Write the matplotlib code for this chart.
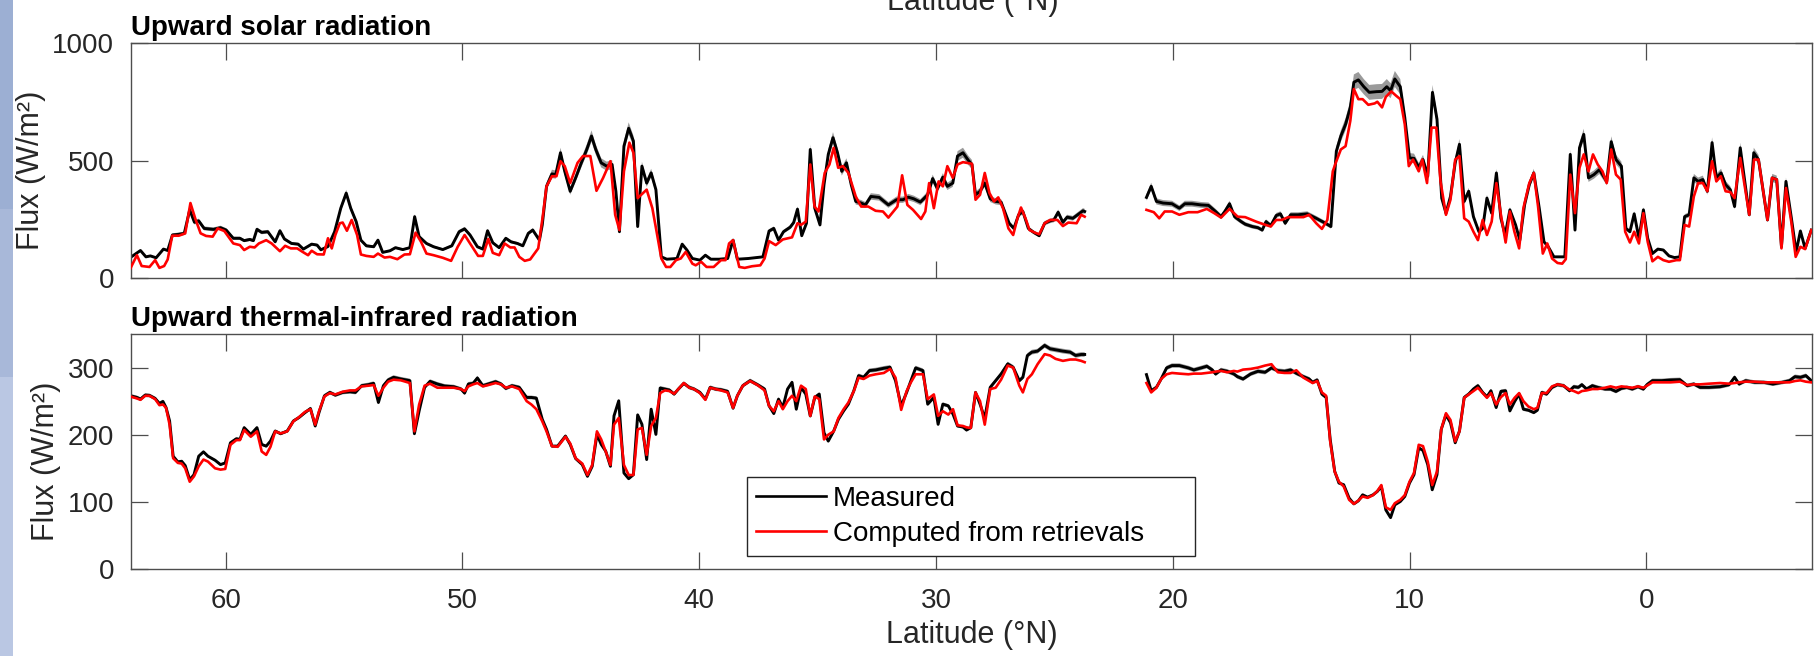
import matplotlib
matplotlib.use("Agg")
import matplotlib.pyplot as plt
from matplotlib.patches import Rectangle
import numpy as np

plt.rcParams['font.family'] = ['Liberation Sans', 'DejaVu Sans']

# ================== upward solar radiation ==================
sw_meas_lat = [64.03, 63.6, 63.37, 63.18, 62.94, 62.63, 62.45, 62.25, 61.98, 61.75, 61.52, 61.32, 61.14,
               60.91, 60.52, 60.22, 59.98, 59.68, 59.4, 59.22, 58.98, 58.83, 58.68, 58.48, 58.22, 57.91,
               57.71, 57.52, 57.22, 56.94, 56.72, 56.37, 56.14, 55.98, 55.68, 55.4, 55.14, 54.91, 54.72,
               54.49, 54.29, 54.06, 53.75, 53.57, 53.37, 53.06, 52.83, 52.52, 52.22, 52.02, 51.83, 51.52,
               51.22, 50.83, 50.45, 50.14, 49.91, 49.68, 49.37, 49.14, 48.94, 48.72, 48.45, 48.17, 47.95,
               47.68, 47.45, 47.22, 47.03, 46.75, 46.63, 46.45, 46.22, 46.06, 45.86, 45.68, 45.45, 45.22,
               44.98, 44.75, 44.55, 44.37, 44.14, 43.91, 43.68, 43.52, 43.37, 43.18, 42.98, 42.78, 42.6,
               42.42, 42.22, 42.03, 41.83, 41.6, 41.37, 40.94, 40.72, 40.52, 40.29,
               39.97, 39.74, 39.51, 39.16, 38.8, 38.57, 38.39, 37.93, 37.31, 37.05, 36.85, 36.65, 36.44,
               36.16, 36.01, 35.85, 35.67, 35.47, 35.31, 35.12, 34.9, 34.73, 34.55, 34.35, 34.16, 33.98,
               33.78, 33.58, 33.39, 33.16, 32.98, 32.75, 32.4, 32.01, 31.67, 31.4, 31.17, 30.94, 30.66,
               30.35, 30.14, 29.94, 29.71, 29.52, 29.29, 29.09, 28.86, 28.63, 28.48, 28.33, 28.14, 27.94,
               27.71, 27.48, 27.25, 27.1, 26.91, 26.71, 26.51, 26.33, 26.1, 25.87, 25.64, 25.41, 25.18,
               25.02, 24.84, 24.64, 24.46, 24.22, 24.02, 23.79, 23.72, 22.4,
               21.11, 20.91, 20.69, 20.41, 20.03, 19.72, 19.49, 19.19, 18.8, 18.49, 18.19, 17.96, 17.8,
               17.6, 17.39, 17.11,
               16.94, 16.64, 16.4, 16.22, 16.06, 15.86, 15.63, 15.45, 15.25, 15.02, 14.71, 14.32, 13.94,
               13.55, 13.32, 13.09, 12.9, 12.7, 12.5, 12.35, 12.16, 11.93, 11.7, 11.39, 11.16, 10.96, 10.8,
               10.62, 10.39, 10.2, 10.0, 9.81, 9.61, 9.43, 9.23, 9.03, 8.84, 8.64, 8.46, 8.27, 8.07, 7.89,
               7.69, 7.5, 7.3, 7.07, 6.91, 6.73, 6.53, 6.33, 6.14, 5.96, 5.76, 5.52, 5.34, 5.14, 4.94, 4.75,
               4.52, 4.32, 4.14, 3.9, 3.67, 3.44, 3.21, 3.01, 2.82, 2.64, 2.44, 2.21, 1.98, 1.67, 1.48,
               1.28, 1.05, 0.86, 0.69, 0.51, 0.31, 0.12, -0.06, -0.26, -0.49, -0.72, -0.96, -1.19, -1.42,
               -1.62, -1.81, -2.01, -2.19, -2.39, -2.58, -2.78, -2.96, -3.16, -3.35, -3.55, -3.73, -3.97,
               -4.15, -4.35, -4.54, -4.74, -4.94, -5.12, -5.32, -5.51, -5.71, -5.9, -6.13, -6.33, -6.51,
               -6.71, -6.97]
sw_meas = [87, 117, 90, 94, 86, 123, 117, 183, 186, 190, 290, 237, 243,
           211, 207, 214, 204, 169, 169, 159, 164, 159, 207, 194, 197, 154,
           201, 166, 147, 144, 123, 144, 140, 120, 134, 197, 297, 361, 297,
           240, 161, 137, 133, 161, 109, 116, 129, 121, 129, 261, 176, 147,
           133, 121, 137, 197, 209, 183, 133, 123, 201, 150, 129, 169, 154,
           147, 137, 190, 204, 161, 226, 390, 443, 440, 533, 454, 369, 426,
           490, 547, 604, 547, 490, 476, 483, 369, 197, 561, 637, 583, 219,
           476, 404, 447, 376, 90, 80, 83, 144, 119, 83,
           76, 97, 80, 80, 83, 161, 80, 83, 90, 200, 211, 161, 197,
           216, 236, 293, 180, 233, 547, 297, 226, 397, 526, 597, 533, 454,
           490, 397, 326, 319, 311, 347, 343, 311, 333, 333, 344, 337, 323,
           354, 423, 380, 429, 390, 404, 519, 533, 500, 483, 354, 369, 404,
           337, 326, 323, 283, 233, 211, 269, 283, 211, 194, 180, 233, 243,
           247, 280, 237, 259, 254, 269, 286, 283, np.nan,
           343, 390, 326, 319, 316, 297, 316, 316, 311, 309, 283, 261, 283,
           316, 261, 240,
           229, 219, 214, 204, 240, 223, 266, 273, 233, 269, 269, 273, 254,
           233, 219, 540, 604, 654, 726, 833, 843, 814, 790, 793, 794, 814, 797,
           847, 814, 683, 511, 509, 471, 504, 433, 790, 676, 340, 276, 347, 490, 569,
           326, 369, 261, 197, 211, 340, 276, 447, 254, 183, 290, 226, 161, 311, 397, 447,
           297, 154, 133, 90, 90, 90, 526, 204, 554, 611, 426, 440, 461, 411, 580,
           504, 476, 211, 197, 273, 169, 290, 169, 104, 123, 119, 94, 87, 90,
           261, 269, 426, 411, 419, 369, 576, 426, 447, 397, 376, 304, 554,
           419, 269, 533, 504, 369, 247, 426, 419, 133, 411, 254, 111, 200,
           126, 204]

sw_comp_lat = [64.03, 63.75, 63.55, 63.22, 62.98, 62.8, 62.6, 62.45, 62.26, 61.98, 61.71, 61.49, 61.29,
               61.06, 60.83, 60.55, 60.34, 60.06, 59.68, 59.4, 59.22, 58.98, 58.78, 58.6, 58.29, 58.06,
               57.71, 57.49, 57.25, 56.98, 56.75, 56.52, 56.37, 56.14, 55.86, 55.68, 55.52, 55.37, 55.18,
               55.06, 54.88, 54.68, 54.45, 54.29, 54.06, 53.75, 53.57, 53.29, 53.06, 52.75, 52.45, 52.22,
               51.98, 51.75, 51.52, 51.22, 50.83, 50.48, 50.2, 49.91, 49.68, 49.34, 49.14, 48.91, 48.72,
               48.45, 48.22, 47.98, 47.8, 47.6, 47.37, 47.14, 46.8, 46.6, 46.45, 46.22, 46.03, 45.86,
               45.68, 45.45, 45.14, 44.91, 44.6, 44.34, 44.06, 43.75, 43.55, 43.37, 43.18, 42.95, 42.78,
               42.6, 42.22, 41.98, 41.8, 41.6, 41.4, 41.22, 40.98, 40.78, 40.57, 40.29,
               40.15, 39.92, 39.69, 39.39, 39.08, 38.89, 38.74, 38.57, 38.31, 38.08, 37.77, 37.42, 37.24,
               37.05, 36.77, 36.47, 36.08, 35.85, 35.7, 35.5, 35.31, 35.13, 34.96, 34.7, 34.5, 34.32,
               34.13, 33.93, 33.7, 33.39, 33.16, 32.86, 32.55, 32.24, 32.01, 31.63, 31.43, 31.21, 30.97,
               30.63, 30.45, 30.29, 30.09, 29.89, 29.71, 29.52, 29.29, 29.09, 28.86, 28.48, 28.33, 28.14,
               27.94, 27.74, 27.55, 27.37, 27.17, 26.94, 26.74, 26.56, 26.41, 26.22, 26.05, 25.82, 25.64,
               25.41, 25.18, 24.87, 24.64, 24.41, 24.06, 23.87, 23.72, 22.4,
               21.11, 20.8, 20.57, 20.34, 20.03, 19.72, 19.34, 18.95, 18.56, 18.25, 17.96, 17.6, 17.26,
               16.94, 16.48, 16.17, 15.86, 15.63, 15.4, 15.12, 14.78, 14.48, 14.24, 13.94, 13.7, 13.47,
               13.24, 13.09, 12.9, 12.7, 12.5, 12.35, 12.16, 11.98, 11.74, 11.47, 11.36, 11.16, 11.0,
               10.77, 10.57, 10.39, 10.2, 10.03, 9.85, 9.61, 9.46, 9.26, 9.07, 8.87, 8.69, 8.46, 8.27,
               8.07, 7.89, 7.69, 7.5, 7.3, 7.11, 6.91, 6.73, 6.53, 6.33, 6.14, 5.94, 5.76, 5.57, 5.37,
               5.19, 4.94, 4.75, 4.57, 4.37, 4.18, 3.98, 3.75, 3.55, 3.4, 3.21, 3.01, 2.82, 2.64, 2.44,
               2.25, 2.05, 1.85, 1.67, 1.48, 1.28, 1.08, 0.89, 0.69, 0.51, 0.31, 0.12, -0.06, -0.26,
               -0.49, -0.72, -0.96, -1.27, -1.42, -1.62, -1.81, -2.01, -2.19, -2.39, -2.58, -2.78, -2.96,
               -3.15, -3.35, -3.55, -3.73, -3.97, -4.35, -4.55, -4.74, -5.12, -5.31, -5.51, -5.71, -5.9,
               -6.13, -6.31, -6.51, -6.71, -6.97]
sw_comp = [40, 97, 51, 47, 76, 43, 51, 79, 180, 180, 190, 319, 254,
           190, 179, 176, 211, 200, 147, 140, 119, 133, 130, 147, 161, 147,
           114, 137, 126, 126, 111, 97, 116, 101, 100, 169, 126, 183, 233,
           236, 201, 247, 183, 100, 94, 90, 104, 87, 90, 80, 100, 101,
           193, 154, 104, 97, 86, 73, 133, 183, 147, 94, 94, 166, 107,
           97, 147, 130, 130, 90, 73, 79, 126, 269, 390, 433, 433, 497,
           476, 404, 490, 519, 519, 371, 426, 497, 269, 204, 454, 576, 533,
           340, 376, 297, 197, 83, 47, 47, 76, 83, 111, 61,
           54, 69, 47, 47, 76, 76, 147, 161, 47, 43, 50, 54, 83,
           157, 140, 164, 173, 233, 226, 240, 483, 304, 283, 447, 483, 554,
           469, 476, 447, 347, 304, 304, 286, 283, 257, 304, 437, 311, 290,
           251, 283, 404, 297, 411, 390, 476, 426, 483, 493, 486, 333, 354,
           447, 361, 326, 343, 297, 211, 183, 254, 300, 254, 204, 193, 186,
           233, 247, 247, 221, 236, 233, 269, 261, np.nan,
           290, 280, 254, 283, 283, 269, 280, 280, 294, 276, 257, 294, 261,
           259, 240, 229, 219, 247, 247, 259, 259, 259, 269, 233, 209, 247,
           454, 497, 547, 561, 669, 804, 761, 761, 737, 743, 750, 726, 771,
           794, 776, 761, 654, 476, 504, 454, 504, 404, 640, 640, 411, 269, 333,
           504, 519, 254, 240, 197, 161, 247, 183, 240, 404, 269, 151, 283, 197, 126,
           297, 404, 447, 304, 104, 147, 83, 64, 61, 80, 440, 276, 469, 526, 454,
           526, 483, 454, 404, 547, 440, 419, 197, 151, 197, 147, 276, 154, 71,
           90, 76, 69, 76, 76, 226, 219, 347, 404, 404, 369, 497, 411,
           433, 369, 366, 340, 511, 269, 504, 504, 247, 426, 419, 126, 383,
           236, 90, 133, 123, 204]
sw_unc_frac = 0.04  # half width of the grey band

# ================== upward thermal-infrared radiation ==================
tir_lat = [64.03, 63.75, 63.6, 63.4, 63.22, 62.98, 62.8, 62.65, 62.52, 62.37, 62.22, 62.02, 61.86,
           61.71, 61.52, 61.34, 61.14, 60.94, 60.75, 60.45, 60.22, 60.02, 59.8, 59.55, 59.4, 59.22,
           58.94, 58.68, 58.48, 58.29, 58.11, 57.91, 57.68, 57.4, 57.14, 56.91, 56.65, 56.42, 56.22,
           56.06, 55.83, 55.6, 55.37, 55.06, 54.75, 54.52, 54.26, 53.98, 53.75, 53.55, 53.34, 53.14,
           52.91, 52.6, 52.22, 52.03, 51.83, 51.6, 51.37, 51.06, 50.75, 50.37, 50.06, 49.91, 49.75,
           49.55, 49.37, 49.14, 48.91, 48.6, 48.37, 48.17, 47.91, 47.6, 47.29, 47.09, 46.88, 46.63,
           46.45, 46.22, 45.98, 45.65, 45.45, 45.22, 44.94, 44.72, 44.52, 44.32, 44.14, 43.95, 43.75,
           43.6, 43.4, 43.18, 42.98, 42.78, 42.6, 42.42, 42.22, 42.03, 41.83, 41.65, 41.45, 41.26,
           41.06, 40.88, 40.65, 40.42, 40.22,
           39.97, 39.74, 39.54, 39.31, 39.08, 38.8, 38.57, 38.39, 38.16, 37.85, 37.54, 37.24, 37.05,
           36.85, 36.65, 36.47, 36.27, 36.08, 35.9, 35.7, 35.5, 35.31, 35.12, 34.93, 34.73, 34.55,
           34.32, 34.12, 33.9, 33.7, 33.47, 33.27, 33.06, 32.81, 32.55, 32.2, 31.94, 31.71, 31.47,
           31.24, 31.06, 30.86, 30.55, 30.35, 30.09, 29.91, 29.71, 29.48, 29.28, 29.09, 28.86, 28.71,
           28.53, 28.33, 28.14, 27.94, 27.71, 27.48, 27.25, 26.97, 26.74, 26.48, 26.33, 26.14, 25.95,
           25.71, 25.41, 25.18, 24.95, 24.64, 24.33, 24.1, 23.87, 23.72, 22.4,
           21.11, 20.91, 20.69, 20.49, 20.26, 20.03, 19.72, 19.34, 19.11, 18.8, 18.56, 18.33, 18.19,
           17.96, 17.7, 17.42, 17.27, 17.03,
           16.71, 16.4, 16.1, 15.83, 15.56, 15.28, 15.02, 14.78, 14.48, 14.24, 14.09, 13.9, 13.7,
           13.52, 13.35, 13.16, 12.98, 12.78, 12.55, 12.35, 12.16, 11.98, 11.77, 11.54, 11.36, 11.19,
           11.0, 10.8, 10.62, 10.39, 10.2, 10.0, 9.81, 9.61, 9.43, 9.23, 9.04, 8.84, 8.66, 8.46, 8.27,
           8.07, 7.89, 7.69, 7.5, 7.3, 7.11, 6.91, 6.73, 6.56, 6.34, 6.14, 5.94, 5.76, 5.56, 5.37,
           5.19, 4.98, 4.75, 4.6, 4.41, 4.21, 3.98, 3.75, 3.49, 3.24, 3.06, 2.87, 2.72, 2.52, 2.28,
           2.05, 1.74, 1.51, 1.28, 1.05, 0.82, 0.59, 0.35, 0.12, -0.03, -0.26, -0.65, -1.03, -1.42,
           -1.73, -2.01, -2.27, -2.65, -3.12, -3.5, -3.73, -3.92, -4.2, -4.58, -4.97, -5.35, -5.74,
           -6.05, -6.28, -6.51, -6.74, -6.97]
tir_meas = [258, 255.5, 253, 259, 258.5, 254, 246.5, 249.5, 240.5, 220.5, 168, 159.5, 160.5,
            154, 133, 140.5, 168, 174.5, 168, 162, 155.5, 158, 188, 194, 193, 210.5,
            200.5, 210.5, 185.5, 183, 190.5, 205.5, 201.5, 205.5, 220.5, 225.5, 233, 239, 213,
            233, 258, 263, 259, 263, 264, 263, 273, 274.5, 276.5, 248, 273, 281.5,
            285.5, 283, 280.5, 201.5, 235.5, 270.5, 279.5, 275.5, 272.5, 271.5, 268, 262, 275.5,
            276.5, 284.5, 273, 275.5, 279, 275.5, 269, 273, 270.5, 255.5, 255.5, 254.5, 223,
            208, 183, 183, 198, 185.5, 164.5, 155.5, 138, 153, 200.5, 185.5, 175.5, 153,
            228, 250.5, 143, 134.5, 140.5, 229.5, 215.5, 163, 238, 200.5, 269.5, 268, 266.5,
            260.5, 268, 276.5, 270.5, 268,
            263, 253, 270.5, 268, 267, 264.5, 239.5, 258, 273, 280.5, 274.5, 268, 243,
            231.5, 253, 240.5, 268, 278, 238, 270.5, 260.5, 228, 255.5, 260.5, 203, 190.5,
            205.5, 223, 235.5, 245.5, 265.5, 288, 285.5, 295.5, 296.5, 299, 300.5, 280.5, 243,
            263, 280.5, 299.5, 295.5, 245.5, 255.5, 215.5, 245.5, 243, 230.5, 213, 211.5, 207,
            210.5, 263, 245.5, 224.5, 270.5, 280.5, 290.5, 305.5, 300.5, 280.5, 285.5, 318, 323,
            324.5, 333, 328, 326.5, 324.5, 323, 318, 319.5, 319.5, np.nan,
            289.5, 265.5, 270.5, 283, 299.5, 303, 303, 299.5, 296.5, 299.5, 302, 296.5, 290.5,
            296.5, 294.5, 290.5, 286.5, 283,
            290.5, 294.5, 293, 299.5, 295.5, 294.5, 296.5, 291.5, 286.5, 283, 278, 281.5, 260.5,
            255.5, 193, 145.5, 128, 125.5, 105.5, 97, 101.5, 110.5, 107, 110.5, 115.5, 123,
            88, 76.5, 95.5, 100.5, 108, 128, 140.5, 180.5, 176.5, 155.5, 118, 140.5, 208, 229.5, 218,
            188, 205.5, 255.5, 260.5, 268, 273, 263, 256.5, 265.5, 240.5, 264.5, 265.5, 235.5, 249.5, 260.5,
            238, 236.5, 233, 236.5, 263, 260.5, 270.5, 274.5, 273, 265.5, 271.5, 270.5, 274.5, 268, 273,
            270.5, 268, 268, 264.5, 269, 270.5, 268, 271.5, 268, 274.5, 280.5, 280.5, 281.5, 282,
            273, 275.5, 270.5, 270.5, 271.5, 274.5, 285.5, 275.5, 280.5, 278, 278, 275.5, 278,
            280.5, 286.5, 285.5, 288, 280.5]
tir_comp = [257, 254, 252, 258, 258, 253, 244, 245, 240, 215, 165, 158, 157,
            150, 130, 138, 153, 163, 160, 150, 148, 149, 185, 192, 192, 207,
            197, 205, 175, 170, 182, 205, 202, 205, 220, 226, 234, 238, 215,
            235, 257, 262, 260, 264, 266, 266, 272, 273, 274, 258, 270, 279,
            282, 281, 277, 205, 245, 273, 276, 270, 270, 270, 268, 265, 272,
            275, 277, 272, 274, 277, 275, 270, 272, 268, 250, 245, 238, 220,
            205, 183, 182, 197, 187, 165, 157, 140, 155, 205, 193, 175, 155,
            215, 225, 155, 140, 140, 208, 210, 170, 213, 225, 262, 266, 265,
            261, 268, 277, 270, 268,
            262, 252, 270, 268, 266, 263, 240, 258, 273, 280, 274, 266, 243,
            235, 250, 238, 250, 258, 250, 273, 268, 228, 257, 253, 193, 200,
            205, 225, 238, 248, 265, 285, 283, 288, 290, 292, 298, 285, 237,
            265, 278, 290, 290, 253, 260, 228, 235, 230, 238, 214, 213, 211,
            210, 263, 250, 215, 268, 270, 282, 303, 300, 273, 263, 283, 290,
            305, 320, 318, 313, 310, 312, 312, 310, 308, np.nan,
            277, 263, 270, 283, 290, 292, 291, 290, 291, 291, 292, 293, 294,
            295, 293, 295, 294, 297,
            298, 300, 303, 305, 293, 292, 292, 296, 285, 280, 277, 280, 263,
            258, 190, 145, 130, 123, 103, 97, 102, 108, 106, 110, 116, 125,
            92, 88, 98, 103, 110, 130, 143, 185, 183, 160, 125, 145, 208, 232, 222,
            190, 205, 255, 260, 265, 270, 262, 255, 262, 245, 256, 262, 245, 255, 262,
            250, 242, 238, 240, 262, 262, 272, 275, 273, 267, 265, 262, 265, 266, 268,
            268, 270, 272, 270, 272, 271, 270, 272, 270, 273, 278, 278, 278, 279,
            274, 275, 275, 276, 277, 276, 277, 278, 279, 279, 278, 278, 278,
            278, 280, 281, 279, 278]
tir_unc_frac = 0.011

ink = '#262626'
spine = '#4d4d4d'

fig = plt.figure(figsize=(18.18, 6.56), dpi=100)

# the light blue strip at the left edge of the page
fig.patches.append(Rectangle((0, 1 - 209 / 656), 13 / 1818, 209 / 656, transform=fig.transFigure,
                             facecolor='#9cafd3', edgecolor='none', zorder=0))
fig.patches.append(Rectangle((0, 1 - 377 / 656), 13 / 1818, 168 / 656, transform=fig.transFigure,
                             facecolor='#a8b8d9', edgecolor='none', zorder=0))
fig.patches.append(Rectangle((0, 0), 13 / 1818, 279 / 656, transform=fig.transFigure,
                             facecolor='#bac7e3', edgecolor='none', zorder=0))

ax1 = fig.add_axes([0.07206, 0.57622, 0.92464, 0.35823])
ax2 = fig.add_axes([0.07206, 0.13262, 0.92464, 0.35823])

# top panel
m = np.array(sw_meas, dtype=float)
ok = ~np.isnan(m)
ax1.fill_between(sw_meas_lat, m * (1 - sw_unc_frac), m * (1 + sw_unc_frac), where=ok,
                 color='#9a9a9a', linewidth=0, zorder=1)
ax1.plot(sw_meas_lat, sw_meas, color='black', linewidth=2.1, zorder=2)
ax1.plot(sw_comp_lat, sw_comp, color='#ff0000', linewidth=1.9, zorder=3)
ax1.set_ylim(0, 1000)
ax1.set_yticks([0, 500, 1000])
ax1.set_title('Upward solar radiation', loc='left', fontsize=20, fontweight='bold', pad=6)

# bottom panel
m = np.array(tir_meas, dtype=float)
ok = ~np.isnan(m)
ax2.fill_between(tir_lat, m * (1 - tir_unc_frac), m * (1 + tir_unc_frac), where=ok,
                 color='#9a9a9a', linewidth=0, zorder=1)
ax2.plot(tir_lat, tir_meas, color='black', linewidth=2.1, zorder=2, label='Measured')
ax2.plot(tir_lat, tir_comp, color='#ff0000', linewidth=1.9, zorder=3, label='Computed from retrievals')
ax2.set_ylim(0, 350)
ax2.set_yticks([0, 100, 200, 300])
ax2.set_title('Upward thermal-infrared radiation', loc='left', fontsize=20, fontweight='bold', pad=6)
ax2.set_xlabel('Latitude (°N)', fontsize=22, color=ink, labelpad=4)

for ax, lx in ((ax1, -0.0595), (ax2, -0.0506)):
    ax.set_xlim(64.0, -7.0)
    ax.set_xticks([60, 50, 40, 30, 20, 10, 0])
    ax.tick_params(direction='in', length=12.5, width=0.9, top=True, right=True,
                   labelsize=20, color=spine, labelcolor=ink)
    ax.tick_params(axis='x', pad=14)
    ax.tick_params(axis='y', pad=12)
    for s in ax.spines.values():
        s.set_color(spine)
        s.set_linewidth(1.0)
    ax.set_ylabel('Flux (W/m²)', fontsize=22, color=ink)
    ax.yaxis.label.set_va('center')
    ax.yaxis.set_label_coords(lx, 0.46)

ax1.tick_params(labelbottom=False)

leg = ax2.legend(loc='lower left', bbox_to_anchor=(0.3665, 0.055, 0.2665, 0.3), mode='expand',
                 borderaxespad=0, fontsize=20, handlelength=2.5, handletextpad=0.25,
                 borderpad=0.33, labelspacing=0.33, fancybox=False, framealpha=1)
leg.get_frame().set_edgecolor(ink)
leg.get_frame().set_linewidth(1.0)
for line in leg.get_lines():
    line.set_linewidth(1.9)

# x label of the panel above, cut off by the page edge
fig.text(0.535, 1 - 10 / 656, 'Latitude (°N)', fontsize=22, color=ink, ha='center', va='baseline')

fig.savefig('out.png', dpi=100)
